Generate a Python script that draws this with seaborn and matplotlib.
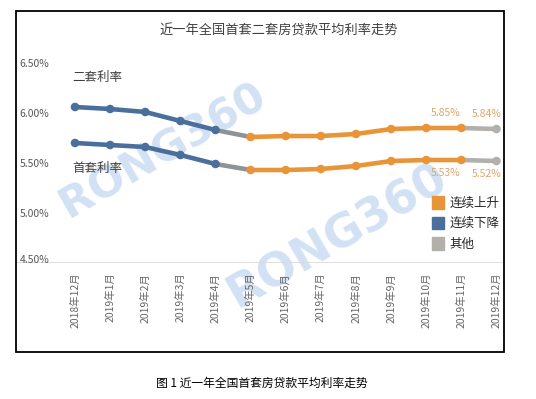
import numpy as np
import pandas as pd
from matplotlib import pyplot as plt
from matplotlib.patches import Patch, Rectangle
import seaborn as sns

months = ['2018年12月', '2019年1月', '2019年2月', '2019年3月', '2019年4月', '2019年5月',
          '2019年6月', '2019年7月', '2019年8月', '2019年9月', '2019年10月', '2019年11月',
          '2019年12月']
first_rate = [5.70, 5.68, 5.66, 5.58, 5.49, 5.43, 5.43, 5.44, 5.47, 5.52, 5.53, 5.53, 5.52]
second_rate = [6.06, 6.04, 6.01, 5.92, 5.83, 5.76, 5.77, 5.77, 5.79, 5.84, 5.85, 5.85, 5.84]
# trend of each point: down / up / other
trend = ['连续下降'] * 5 + ['连续上升'] * 7 + ['其他']
yticks = [4.5, 5.0, 5.5, 6.0, 6.5]

BLUE = '#4a6f9c'
ORANGE = '#e8953a'
GRAY = '#b3b0ac'
colors = {'连续上升': ORANGE, '连续下降': BLUE, '其他': GRAY}

sns.set_style('white')
plt.rcParams['font.family'] = ['Noto Sans CJK SC', 'DejaVu Sans']

fig = plt.figure(figsize=(5.36, 3.99), dpi=100)
ax = fig.add_axes([16 / 536, 1 - 263 / 399, 487 / 536, 200 / 399])
ax.patch.set_alpha(0)

df = pd.DataFrame({'idx': list(range(13)) * 2,
                   'rate': first_rate + second_rate,
                   'series': ['首套'] * 13 + ['二套'] * 13,
                   'trend': trend * 2})

# line segments (down, transition, up, transition)
segs = [(0, 4, BLUE), (4, 5, '#8f9396'), (5, 11, ORANGE), (11, 12, GRAY)]
for s in ['首套', '二套']:
    d = df[df.series == s]
    for a, b, c in segs:
        part = d[(d.idx >= a) & (d.idx <= b)]
        sns.lineplot(data=part, x='idx', y='rate', color=c, linewidth=3.3,
                     ax=ax, legend=False, zorder=2)
sns.scatterplot(data=df, x='idx', y='rate', hue='trend', palette=colors,
                s=38, edgecolor='none', ax=ax, legend=False, zorder=3)

ax.set_xlim(-1.68, 12.185)
ax.set_ylim(4.5, 6.5)
for sp in ax.spines.values():
    sp.set_visible(False)
ax.axhline(4.5, color='#d9d9d9', lw=1.2, zorder=1)
ax.set_yticks([])
ax.set_xticks(range(13))
ax.set_xticklabels(months, rotation=90, fontsize=7.5, color='#666666', va='top')
ax.tick_params(axis='x', length=0, pad=7)
ax.set_xlabel('')
ax.set_ylabel('')
for v in yticks:
    off = 0.03 if v == 4.5 else -0.01
    ax.text(-1.57, v + off, f'{v:.2f}%', fontsize=7.5, color='#595959',
            ha='left', va='center')

ax.text(-0.08, 6.36, '二套利率', fontsize=9, color='#404040', ha='left', va='center')
ax.text(-0.08, 5.45, '首套利率', fontsize=9, color='#404040', ha='left', va='center')

lab_c = '#d9a86a'
for i, dx in [(11, -0.45), (12, -0.28)]:
    ax.text(i + dx, second_rate[i] + 0.15, f'{second_rate[i]:.2f}%', fontsize=7.5,
            color=lab_c, ha='center', va='center')
    ax.text(i + dx, first_rate[i] - 0.13, f'{first_rate[i]:.2f}%', fontsize=7.5,
            color=lab_c, ha='center', va='center')

handles = [Patch(color=colors[k], label=k) for k in ['连续上升', '连续下降', '其他']]
ax.legend(handles=handles, loc='upper left', bbox_to_anchor=(0.855, 0.335),
          frameon=False, fontsize=9, handlelength=0.95, handleheight=1.2,
          handletextpad=0.45, labelspacing=0.55, borderpad=0, borderaxespad=0,
          labelcolor='#262626')

# watermark
for x, y, fs in [(163 / 536, 1 - 150 / 399, 31), (338 / 536, 1 - 236 / 399, 33)]:
    fig.text(x, y, 'RONG360', fontsize=fs, fontweight='bold', color='#cadcf2',
             alpha=0.85, rotation=30, ha='center', va='center', family='DejaVu Sans',
             zorder=-1)

fig.text(279 / 536, 1 - 31 / 399, '近一年全国首套二套房贷款平均利率走势', fontsize=9.5,
         color='#404040', ha='center', va='center')
fig.patches.append(Rectangle((16 / 536, 1 - 352 / 399), 488 / 536, 341 / 399,
                             transform=fig.transFigure, fill=False, ec='black', lw=1.3))
fig.text(262 / 536, 1 - 383 / 399, '图 1 近一年全国首套房贷款平均利率走势', fontsize=8.5,
         color='black', ha='center', va='center')

plt.savefig('out.png', dpi=100)
